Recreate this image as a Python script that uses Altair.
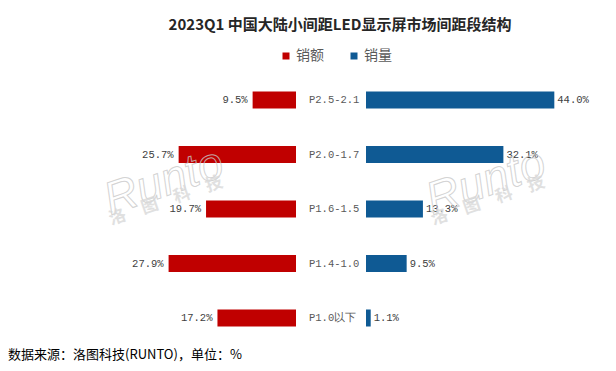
import altair as alt
import pandas as pd

# ---- data ----
categories = ["P2.5-2.1", "P2.0-1.7", "P1.6-1.5", "P1.4-1.0", "P1.0以下"]
sales_amount_share = [9.5, 25.7, 19.7, 27.9, 17.2]    # 销额
sales_volume_share = [44.0, 32.1, 13.3, 9.5, 1.1]     # 销量
series_names = ["销额", "销量"]
series_colors = ["#C00000", "#0F5A94"]

title_text = "2023Q1 中国大陆小间距LED显示屏市场间距段结构"
source_text = "数据来源：洛图科技(RUNTO)，单位：%"
watermark_en = "Runto"
watermark_cn = "洛　图　科　技"

# ---- tables ----
df_amt = pd.DataFrame({"cat": categories, "v": sales_amount_share, "series": series_names[0]})
df_vol = pd.DataFrame({"cat": categories, "v": sales_volume_share, "series": series_names[1]})
df_cat = pd.DataFrame({"cat": categories})
df_src = pd.DataFrame({"t": [source_text]})

W, H = 600, 315
PAD_TOP = 40

y_enc = alt.Y("cat:N", sort=categories, axis=None,
              scale=alt.Scale(range=[24.75, 297.25], paddingInner=0, paddingOuter=0))

color_enc = alt.Color(
    "series:N",
    scale=alt.Scale(domain=series_names, range=series_colors),
    legend=alt.Legend(orient="none", legendX=271, legendY=1, direction="horizontal",
                      title=None, symbolType="square", symbolSize=49, symbolStrokeWidth=0,
                      labelFontSize=14, labelColor="#595959", labelFont="Noto Sans CJK SC",
                      columnPadding=23, labelOffset=3),
)

x_left = alt.X("v:Q", axis=None, scale=alt.Scale(domain=[0, 30], range=[288, 151], nice=False))
x_right = alt.X("v:Q", axis=None, scale=alt.Scale(domain=[0, 50], range=[358, 572], nice=False))

label_font = "Liberation Mono"

left_bars = alt.Chart(df_amt).mark_bar(size=17).encode(x=x_left, y=y_enc, color=color_enc)
left_text = alt.Chart(df_amt).transform_calculate(
    label="format(datum.v, '.1f') + '%'"
).mark_text(align="right", baseline="middle", dx=-5, font=label_font, fontSize=10.5,
            color="#404040").encode(x=x_left, y=y_enc, text="label:N")

right_bars = alt.Chart(df_vol).mark_bar(size=17).encode(x=x_right, y=y_enc, color=color_enc)
right_text = alt.Chart(df_vol).transform_calculate(
    label="format(datum.v, '.1f') + '%'"
).mark_text(align="left", baseline="middle", dx=3, font=label_font, fontSize=10.5,
            color="#404040").encode(x=x_right, y=y_enc, text="label:N")

mid_text = alt.Chart(df_cat).mark_text(
    align="left", baseline="middle", font=label_font, fontSize=10.5, color="#595959"
).encode(x=alt.value(301), y=y_enc, text="cat:N")

source = alt.Chart(df_src).mark_text(
    align="left", baseline="middle", font="Noto Sans CJK SC", fontSize=13, color="#000000"
).encode(x=alt.value(0), y=alt.value(307), text="t:N")


def watermark(cx, cy):
    en = alt.Chart(df_src).mark_text(
        align="center", baseline="middle", font="Liberation Sans", fontStyle="italic",
        fontSize=46, angle=341, fillOpacity=0, stroke="#c8c8c8", strokeWidth=1, strokeOpacity=0.8
    ).encode(x=alt.value(cx), y=alt.value(cy), text=alt.value(watermark_en))
    cn = alt.Chart(df_src).mark_text(
        align="center", baseline="middle", font="Noto Sans CJK SC", fontWeight="bold",
        fontSize=17, angle=341, fill="#d9d9d9", opacity=0.8
    ).encode(x=alt.value(cx + 2), y=alt.value(cy + 19), text=alt.value(watermark_cn))
    return [en, cn]


layers = [left_bars, right_bars, left_text, right_text, mid_text, source]
layers += watermark(156, 134)
layers += watermark(478, 134)

chart = alt.layer(*layers).resolve_scale(x="independent").properties(
    width=W, height=H,
    autosize=alt.AutoSizeParams(type="none"),
    padding={"left": 0, "right": 0, "top": PAD_TOP, "bottom": 0},
    title=alt.TitleParams(text=title_text, anchor="middle", dx=32, dy=-11, font="Noto Sans CJK SC",
                          fontSize=15, fontWeight="bold", color="#262626"),
).configure_view(stroke=None)

chart.save("out.html", embed_options={"renderer": "svg", "actions": False})
